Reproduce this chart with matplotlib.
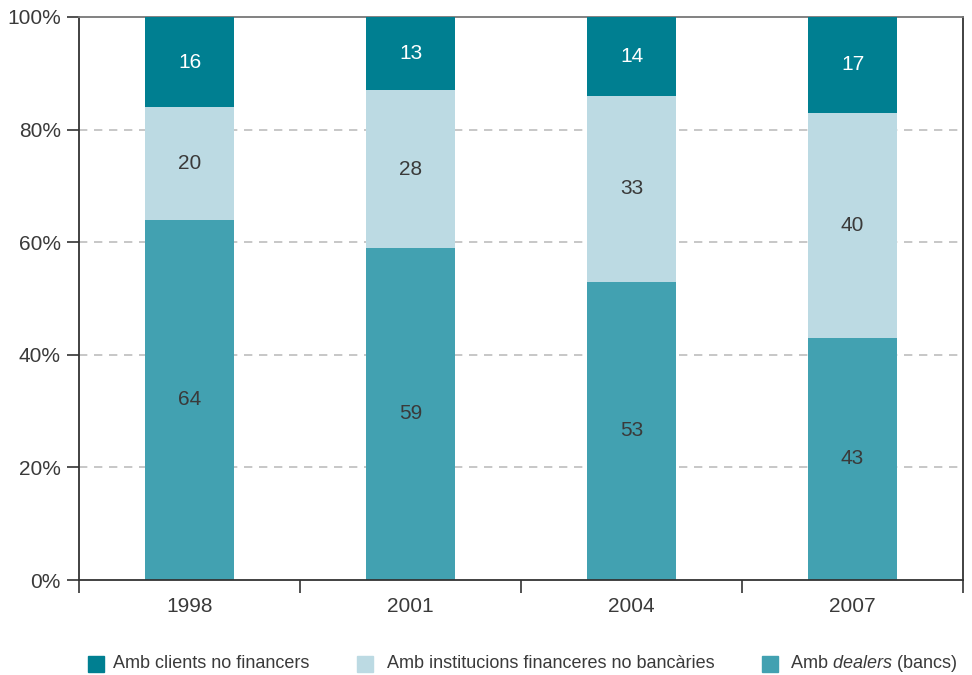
import matplotlib
matplotlib.use("Agg")
import matplotlib.pyplot as plt
from matplotlib.patches import Rectangle
import numpy as np

plt.rcParams["font.family"] = ["Liberation Sans", "DejaVu Sans"]
plt.rcParams["mathtext.fontset"] = "custom"
plt.rcParams["mathtext.rm"] = "Liberation Sans"
plt.rcParams["mathtext.it"] = "Liberation Sans:italic"

years = ["1998", "2001", "2004", "2007"]
dealers = [64, 59, 53, 43]
non_bank = [20, 28, 33, 40]
non_financial = [16, 13, 14, 17]

labels = ["Amb clients no financers",
          "Amb institucions financeres no bancàries",
          "Amb $\\mathit{dealers}$ (bancs)"]
c_top = "#007F91"
c_mid = "#BCDAE3"
c_bot = "#42A1B1"
text_dark = "#3A3A3A"

fig = plt.figure(figsize=(9.72, 6.75), dpi=100)
ax = fig.add_axes([79 / 972, 1 - 580 / 675, (963 - 79) / 972, (580 - 17) / 675])

x = np.arange(len(years))
w = 0.4
dealers_a = np.array(dealers)
non_bank_a = np.array(non_bank)
non_fin_a = np.array(non_financial)

ax.bar(x, dealers_a, w, color=c_bot, zorder=3)
ax.bar(x, non_bank_a, w, bottom=dealers_a, color=c_mid, zorder=3)
ax.bar(x, non_fin_a, w, bottom=dealers_a + non_bank_a, color=c_top, zorder=3)

fs = 15
for i in range(len(years)):
    ax.text(x[i], dealers_a[i] / 2, str(dealers[i]), ha="center", va="center",
            fontsize=fs, color=text_dark, zorder=4)
    ax.text(x[i], dealers_a[i] + non_bank_a[i] / 2, str(non_bank[i]), ha="center",
            va="center", fontsize=fs, color=text_dark, zorder=4)
    ax.text(x[i], dealers_a[i] + non_bank_a[i] + non_fin_a[i] / 2, str(non_financial[i]),
            ha="center", va="center", fontsize=fs, color="white", zorder=4)

ax.set_xlim(-0.5, len(years) - 0.5)
ax.set_ylim(0, 100)

# dashed horizontal gridlines
for yv in [20, 40, 60, 80]:
    ax.axhline(yv, color="#BDBDBD", lw=1.2, ls=(0, (5, 4)), zorder=1)

ax.set_yticks([0, 20, 40, 60, 80, 100])
ax.set_yticklabels([f"{v}%" for v in [0, 20, 40, 60, 80, 100]])
ax.tick_params(axis="y", direction="out", length=9, width=1.2, color="#333333",
               labelsize=fs, labelcolor=text_dark, pad=4)

ax.set_xticks(x)
ax.set_xticklabels(years)
ax.tick_params(axis="x", length=0, labelsize=fs, labelcolor=text_dark, pad=12)
ax.set_xticks(np.arange(-0.5, len(years), 1.0), minor=True)
ax.tick_params(axis="x", which="minor", direction="out", length=9, width=1.2,
               color="#333333")

for side in ["left", "bottom", "right"]:
    ax.spines[side].set_color("#333333")
    ax.spines[side].set_linewidth(1.3)
ax.spines["top"].set_color("#777777")
ax.spines["top"].set_linewidth(1.3)
ax.spines["bottom"].set_zorder(5)

# legend row at the bottom
legend_items = [(c_top, labels[0], 88, 113),
                (c_mid, labels[1], 357, 387),
                (c_bot, labels[2], 762, 790)]
ly = 664
for col, lab, sx, tx in legend_items:
    fig.patches.append(Rectangle((sx / 972, 1 - (ly + 8) / 675), 16 / 972, 16 / 675,
                                 transform=fig.transFigure, color=col))
    fig.text(tx / 972, 1 - ly / 675, lab, ha="left", va="center", fontsize=13,
             color=text_dark)

fig.savefig("out.png", dpi=100)
